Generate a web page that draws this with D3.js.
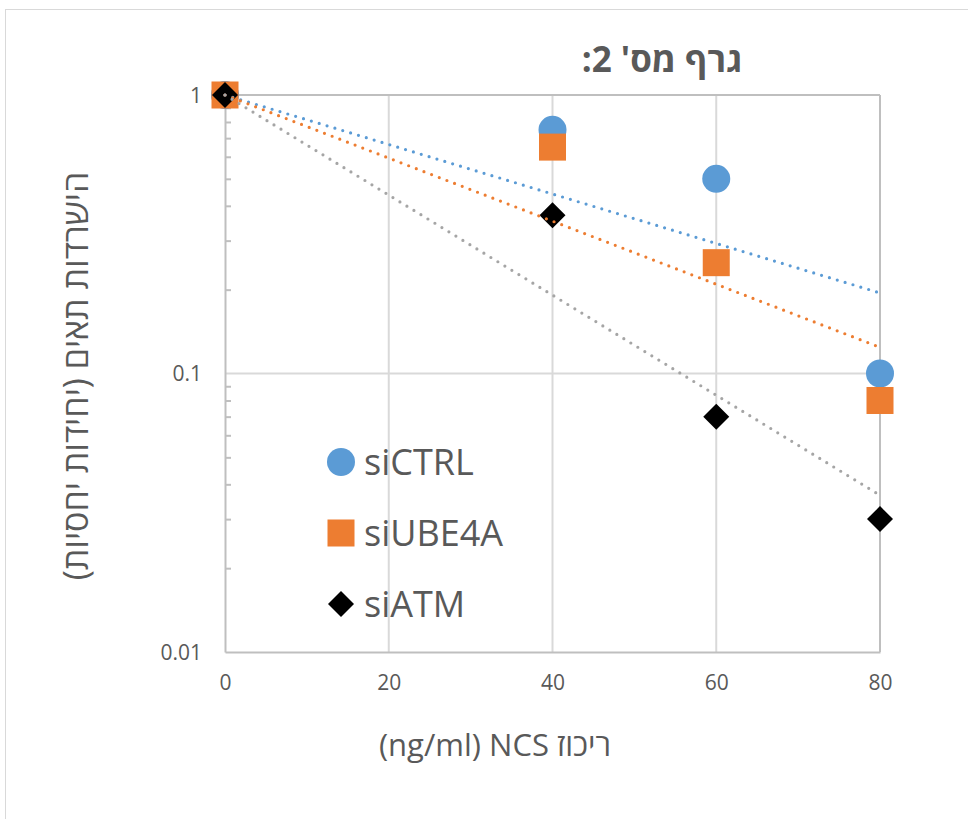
<!DOCTYPE html>
<html lang="he">
<head>
<meta charset="UTF-8">
<script src="https://d3js.org/d3.v7.min.js"></script>
<style>
body { margin: 0; background: #fff; }
svg { display: block; }
text { font-family: "Open Sans", "Liberation Sans", sans-serif; fill: #595959; }
.rtl { direction: rtl; unicode-bidi: embed; }
</style>
</head>
<body>
<div id="chart"></div>
<script>
// data
var doses = [0, 40, 60, 80];
var siCTRL = [1, 0.75, 0.5, 0.1];
var siUBE4A = [1, 0.65, 0.25, 0.08];
var siATM = [1, 0.37, 0.07, 0.03];
var xTicks = [0, 20, 40, 60, 80];
var yTicks = [0.01, 0.1, 1];
var seriesNames = ["siCTRL", "siUBE4A", "siATM"];

var W = 968, H = 819;
var svg = d3.select("#chart").append("svg").attr("width", W).attr("height", H);

// outer chart border
svg.append("rect").attr("x", 5.5).attr("y", 9.5).attr("width", 1000).attr("height", 900)
  .attr("fill", "none").attr("stroke", "#d9d9d9");

var x = d3.scaleLinear().domain([0, 80]).range([225, 880]);
var y = d3.scaleLog().domain([0.01, 1]).range([652, 95]);

// gridlines
svg.append("g").selectAll("line").data(xTicks.slice(1, -1)).join("line")
  .attr("x1", d => x(d)).attr("x2", d => x(d)).attr("y1", y(1)).attr("y2", y(0.01))
  .attr("stroke", "#d9d9d9").attr("stroke-width", 2);
svg.append("g").selectAll("line").data([0.1]).join("line")
  .attr("x1", x(0)).attr("x2", x(80)).attr("y1", d => y(d)).attr("y2", d => y(d))
  .attr("stroke", "#d9d9d9").attr("stroke-width", 2);
// plot border top / right
svg.append("line").attr("x1", x(0)).attr("x2", x(80)).attr("y1", y(1)).attr("y2", y(1))
  .attr("stroke", "#bfbfbf").attr("stroke-width", 2);
svg.append("line").attr("x1", x(80)).attr("x2", x(80)).attr("y1", y(1)).attr("y2", y(0.01))
  .attr("stroke", "#bfbfbf").attr("stroke-width", 2);

// minor ticks on log axis
var minor = y.ticks().filter(d => yTicks.indexOf(d) < 0);
var minorAxis = svg.append("g").attr("transform", "translate(" + x(0) + ",0)")
  .call(d3.axisRight(y).tickValues(minor).tickSize(6).tickFormat(""));
minorAxis.selectAll("line").attr("stroke", "#bfbfbf").attr("stroke-width", 2);
minorAxis.select(".domain").remove();

// y axis
var yAxis = svg.append("g").attr("transform", "translate(" + x(0) + ",0)")
  .call(d3.axisLeft(y).tickValues(yTicks).tickSize(0).tickPadding(23).tickFormat(d => String(d)));
yAxis.select(".domain").attr("stroke", "#bfbfbf").attr("stroke-width", 2);
yAxis.selectAll("text").style("font-size", "21px").style("fill", "#595959").attr("dy", "0.35em");

// x axis
var xAxis = svg.append("g").attr("transform", "translate(0," + y(0.01) + ")")
  .call(d3.axisBottom(x).tickValues(xTicks).tickSize(0).tickPadding(23));
xAxis.select(".domain").attr("stroke", "#bfbfbf").attr("stroke-width", 2);
xAxis.selectAll("text").style("font-size", "21px").style("fill", "#595959");

var colors = ["#5b9bd5", "#ed7d31", "#000000"];
var trendColors = ["#5b9bd5", "#ed7d31", "#a5a5a5"];
var allSeries = [siCTRL, siUBE4A, siATM];

// markers
function drawMarker(g, i, cx, cy) {
  if (i == 0) {
    g.append("circle").attr("cx", cx).attr("cy", cy).attr("r", 14).attr("fill", colors[0]);
  } else if (i == 1) {
    g.append("rect").attr("x", cx - 13.5).attr("y", cy - 13.5).attr("width", 27).attr("height", 27).attr("fill", colors[1]);
  } else {
    g.append("path").attr("transform", "translate(" + cx + "," + cy + ")")
      .attr("d", "M0,-13L13,0L0,13L-13,0Z").attr("fill", colors[2]);
  }
}

var marks = svg.append("g");
allSeries.forEach(function(vals, i) {
  vals.forEach(function(v, j) { drawMarker(marks, i, x(doses[j]), y(v)); });
});

// exponential trendlines (intercept fixed at 1)
allSeries.forEach(function(vals, i) {
  var sxy = 0, sxx = 0;
  vals.forEach(function(v, j) { sxy += doses[j] * Math.log(v); sxx += doses[j] * doses[j]; });
  var k = sxy / sxx;
  var pts = [0, 80].map(d => [x(d), y(Math.exp(k * d))]);
  svg.append("path").attr("d", d3.line()(pts))
    .attr("stroke", trendColors[i]).attr("stroke-width", 3.2).attr("fill", "none")
    .attr("stroke-linecap", "round").attr("stroke-dasharray", "0 8.2");
});

// legend
var legY = [462, 533, 604];
var leg = svg.append("g");
seriesNames.forEach(function(n, i) {
  drawMarker(leg, i, 341, legY[i]);
  leg.append("text").attr("x", 364).attr("y", legY[i]).attr("dy", "0.36em")
    .style("font-size", "36px").text(n);
});

// titles
svg.append("text").attr("class", "rtl").attr("x", 662).attr("y", 72)
  .attr("text-anchor", "middle")
  .style("font-size", "35px").style("font-weight", "bold").text("\u202Bגרף מס' 2:\u202C");

svg.append("text").attr("x", 495).attr("y", 756)
  .attr("text-anchor", "middle")
  .style("font-size", "31px").text("(ng/ml) NCS ריכוז");

svg.append("text").attr("class", "rtl").attr("transform", "translate(88,376) rotate(-90)")
  .attr("text-anchor", "middle")
  .style("font-size", "34px").text("\u202Bהישרדות תאים (יחידות יחסיות)\u202C");
</script>
</body>
</html>
